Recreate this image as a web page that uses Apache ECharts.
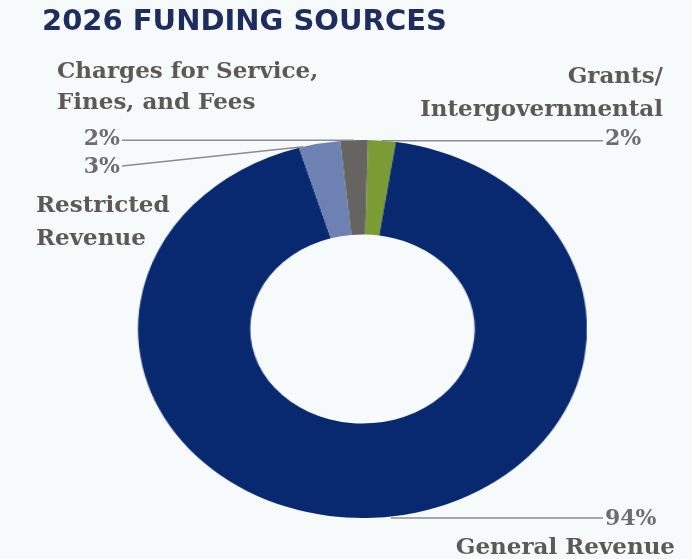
<!DOCTYPE html>
<html>
<head>
<meta charset="utf-8">
<script src="https://cdn.jsdelivr.net/npm/echarts@6/dist/echarts.min.js"></script>
<style>
  html, body { margin: 0; padding: 0; background: #f6fafb; }
  #wrap { position: relative; width: 692px; height: 559px; overflow: hidden; background: #f6fafb; }
  #ring { position: absolute; left: 0; top: 0; height: 559px; transform-origin: 0 0; }
  #notes { position: absolute; left: 0; top: 0; width: 692px; height: 559px; }
</style>
</head>
<body>
<div id="wrap"><div id="ring"></div><div id="notes"></div></div>
<script>
// Funding sources, in clockwise order starting near 12 o'clock
const categories = ['Grants/Intergovernmental', 'General Revenue', 'Restricted Revenue', 'Charges for Service, Fines, and Fees'];
const shares = [2, 94, 3, 2];
const nameLabels = ['Grants/\nIntergovernmental', 'General Revenue', 'Restricted\nRevenue', 'Charges for Service,\nFines, and Fees'];
const sliceColors = ['#7b9c34', '#08286f', '#6e81b3', '#666461'];

// Ring geometry (screen pixels). The ring is drawn as an ellipse by
// scaling a circular pie horizontally.
const ring = { cx: 362.5, cy: 329, rx: 224.5, ry: 189, hole: 0.5, startAngle: 88.6 };
const stretch = ring.rx / ring.ry;

// Where each leader line touches its slice (fraction through the slice),
// and where the percentage / name texts sit.
const notes = [
  { frac: 0.5, pct: { x: 605, align: 'left' },  name: { x: 663, y: 93.5, align: 'right', lh: 33 } },
  { frac: 0.49, pct: { x: 605, y: 520, align: 'left' },  name: { x: 675, y: 548, align: 'right', lh: 33 } },
  { frac: 0.1, pct: { x: 120, y: 168, align: 'right' }, name: { x: 36, y: 223, align: 'left', lh: 33 } },
  { frac: 0.5, pct: { x: 120, align: 'right' }, name: { x: 57, y: 87.5, align: 'left', lh: 31.5 } }
];

const serif = '"DejaVu Serif", "Liberation Serif", serif';
const nameColor = '#5d5a56';
const pctColor = '#6d6d6d';
const leaderColor = '#8c8c8c';

// --- ring layer ---
const ringEl = document.getElementById('ring');
ringEl.style.width = (692 / stretch) + 'px';
ringEl.style.transform = 'scaleX(' + stretch + ')';
const ringChart = echarts.init(ringEl, null, { renderer: 'canvas' });
ringChart.setOption({
  animation: false,
  series: [{
    type: 'pie',
    silent: true,
    center: [ring.cx / stretch, ring.cy],
    radius: [ring.ry * ring.hole, ring.ry],
    startAngle: ring.startAngle,
    clockwise: true,
    label: { show: false },
    labelLine: { show: false },
    itemStyle: { borderWidth: 0 },
    data: categories.map((c, i) => ({ name: c, value: shares[i], itemStyle: { color: sliceColors[i] } }))
  }]
});

// --- text and leader-line layer ---
const total = shares.reduce((a, b) => a + b, 0);
function pointAt(thetaDeg) {
  const t = thetaDeg * Math.PI / 180;
  return [ring.cx + ring.rx * Math.sin(t), ring.cy - ring.ry * Math.cos(t)];
}
const graphics = [];
let cum = 0;
shares.forEach((v, i) => {
  const start = (90 - ring.startAngle) + cum / total * 360;
  const span = v / total * 360;
  cum += v;
  const n = notes[i];
  const anchor = pointAt(start + span * n.frac);
  const py = n.pct.y !== undefined ? n.pct.y : anchor[1];
  const endX = n.pct.align === 'left' ? n.pct.x - 2 : n.pct.x + 2;
  const lineY = n.pct.y !== undefined ? py - 2 : py;
  // horizontal leaders run flat at the label height
  const startY = (n.pct.y !== undefined && i === 1) ? lineY : anchor[1];
  graphics.push({
    type: 'line',
    silent: true,
    z: 1,
    shape: { x1: anchor[0], y1: startY, x2: endX, y2: lineY },
    style: { stroke: leaderColor, lineWidth: 1.5 }
  });
  graphics.push({
    type: 'text',
    silent: true,
    x: n.pct.x, y: py - 1,
    style: {
      text: v + '%', font: 'bold 22px ' + serif, fill: pctColor,
      align: n.pct.align, verticalAlign: 'middle'
    }
  });
  graphics.push({
    type: 'text',
    silent: true,
    x: n.name.x, y: n.name.y,
    style: {
      text: nameLabels[i], font: 'bold 23px ' + serif, fill: nameColor,
      lineHeight: n.name.lh, align: n.name.align, verticalAlign: 'middle'
    }
  });
});

const notesChart = echarts.init(document.getElementById('notes'), null, { renderer: 'canvas' });
notesChart.setOption({
  animation: false,
  title: {
    text: '2026 FUNDING SOURCES',
    left: 37, top: 3,
    textStyle: { fontFamily: '"DejaVu Sans", sans-serif', fontWeight: 'bold', fontSize: 29, color: '#1e2c5e' }
  },
  graphic: graphics
});
</script>
</body>
</html>
